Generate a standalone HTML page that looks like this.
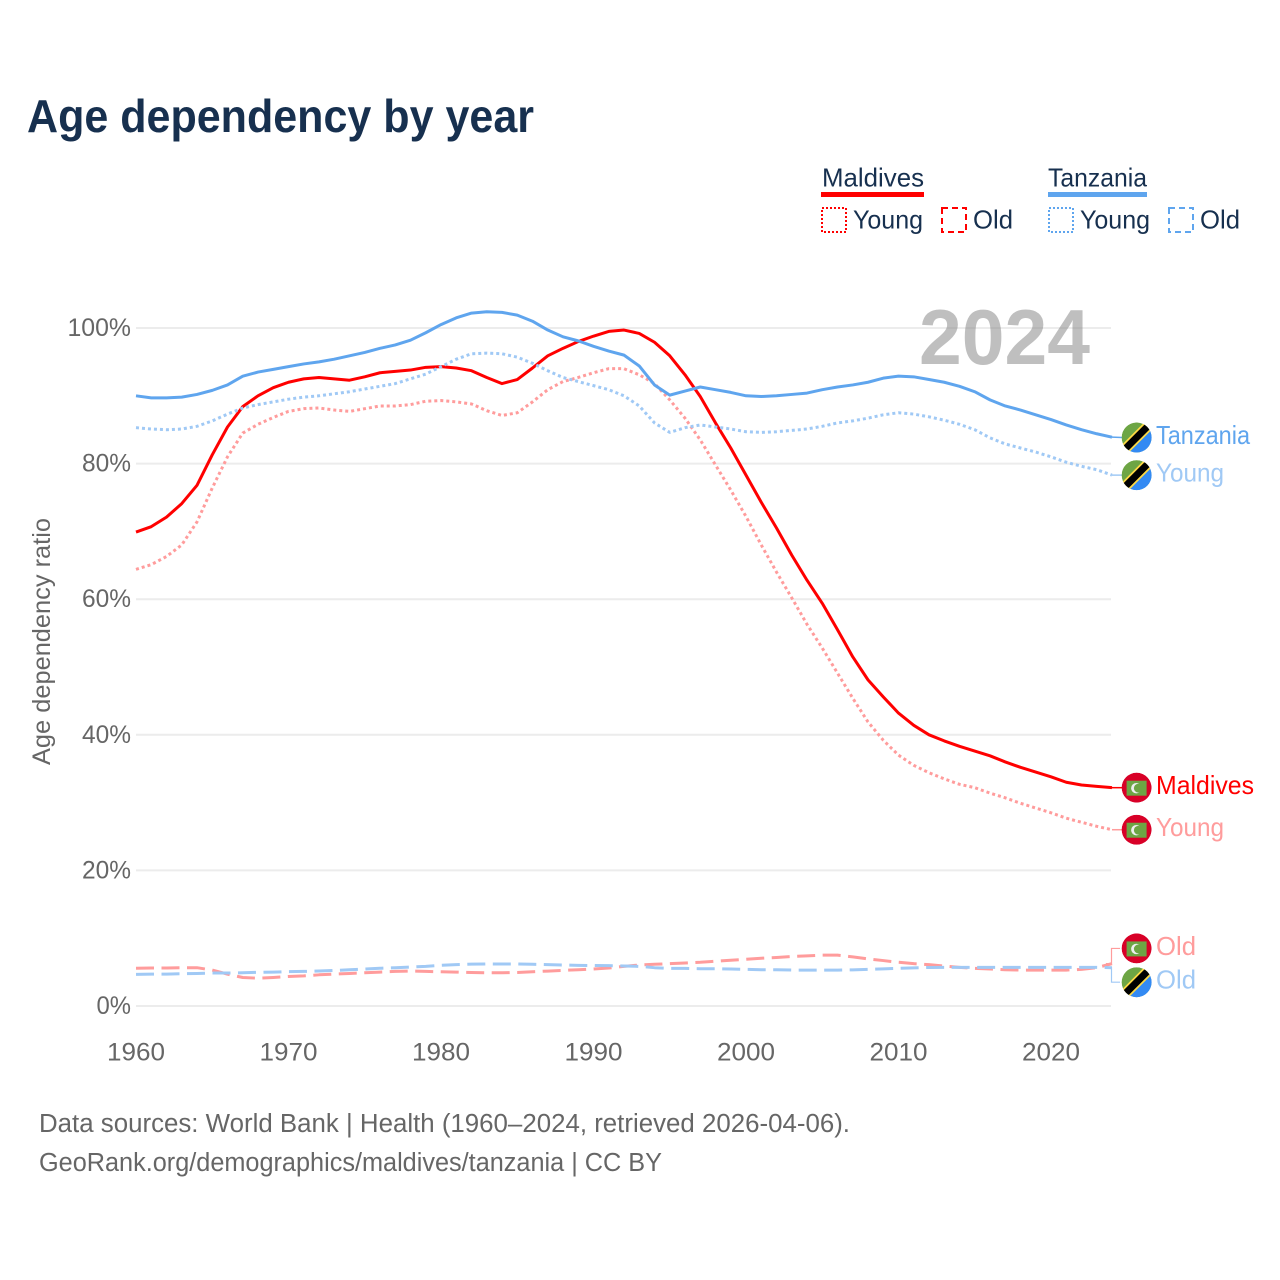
<!DOCTYPE html>
<html lang="en">
<head>
<meta charset="utf-8">
<title>Age dependency by year</title>
<style>
html,body{margin:0;padding:0;background:#fff;}
svg{display:block;font-family:"Liberation Sans",sans-serif;}
</style>
</head>
<body>
<svg id="chart" width="1280" height="1280" viewBox="0 0 1280 1280" xmlns="http://www.w3.org/2000/svg">
  <defs>
    <clipPath id="flag-clip"><circle cx="0" cy="0" r="15"></circle></clipPath>
  </defs>
  <rect x="0" y="0" width="1280" height="1280" fill="#ffffff"></rect>
  <text x="27" y="132" font-size="46" font-weight="700" fill="#17304f" textLength="507" lengthAdjust="spacingAndGlyphs">Age dependency by year</text>

  <g font-size="26" fill="#17304f">
    <g>
      <text x="822" y="186.5" textLength="102" lengthAdjust="spacingAndGlyphs">Maldives</text>
      <rect x="821" y="192" width="103" height="5" fill="#ff0000"></rect>
      <rect x="822" y="208" width="24" height="24" fill="none" stroke="#ff0000" stroke-width="2" stroke-dasharray="2 2"></rect>
      <text x="853" y="228.5" textLength="70" lengthAdjust="spacingAndGlyphs">Young</text>
      <rect x="942" y="208" width="24" height="24" fill="none" stroke="#ff0000" stroke-width="2" stroke-dasharray="6 4"></rect>
      <text x="973" y="228.5" textLength="40" lengthAdjust="spacingAndGlyphs">Old</text>
    </g>
    <g>
      <text x="1048" y="186.5" textLength="99" lengthAdjust="spacingAndGlyphs">Tanzania</text>
      <rect x="1048" y="192" width="99" height="5" fill="#5fa5ee"></rect>
      <rect x="1049" y="208" width="24" height="24" fill="none" stroke="#5fa5ee" stroke-width="2" stroke-dasharray="2 2"></rect>
      <text x="1080" y="228.5" textLength="70" lengthAdjust="spacingAndGlyphs">Young</text>
      <rect x="1169" y="208" width="24" height="24" fill="none" stroke="#5fa5ee" stroke-width="2" stroke-dasharray="6 4"></rect>
      <text x="1200" y="228.5" textLength="40" lengthAdjust="spacingAndGlyphs">Old</text>
    </g>
  </g>

  <g id="grid"></g>
  <text x="919" y="364" font-size="78" font-weight="700" fill="#808080" fill-opacity="0.5" textLength="171" lengthAdjust="spacingAndGlyphs">2024</text>
  <g id="y-ticks" font-size="25" fill="#666666" text-anchor="end"></g>
  <g id="x-ticks" font-size="25" fill="#666666" text-anchor="middle"></g>
  <text transform="translate(50,641.5) rotate(-90)" font-size="25" fill="#666666" text-anchor="middle" textLength="247" lengthAdjust="spacingAndGlyphs">Age dependency ratio</text>
  <g id="series"></g>
  <g id="end-labels" font-size="26"></g>

  <g font-size="25.5" fill="#666666">
    <text x="39" y="1132" textLength="811" lengthAdjust="spacingAndGlyphs">Data sources: World Bank | Health (1960–2024, retrieved 2026-04-06).</text>
    <text x="39" y="1171" textLength="623" lengthAdjust="spacingAndGlyphs">GeoRank.org/demographics/maldives/tanzania | CC BY</text>
  </g>
</svg>
<script>
var years = [
  1960,1961,1962,1963,1964,1965,1966,1967,1968,1969,
  1970,1971,1972,1973,1974,1975,1976,1977,1978,1979,
  1980,1981,1982,1983,1984,1985,1986,1987,1988,1989,
  1990,1991,1992,1993,1994,1995,1996,1997,1998,1999,
  2000,2001,2002,2003,2004,2005,2006,2007,2008,2009,
  2010,2011,2012,2013,2014,2015,2016,2017,2018,2019,
  2020,2021,2022,2023,2024
];
var maldivesTotal = [
  69.9,70.7,72.1,74.1,76.8,81.3,85.4,88.4,90.0,91.2,
  92.0,92.5,92.7,92.5,92.3,92.8,93.4,93.6,93.8,94.2,
  94.3,94.1,93.7,92.7,91.8,92.4,94.1,95.9,97.0,98.0,
  98.8,99.5,99.7,99.2,97.9,95.9,93.1,89.9,86.0,82.3,
  78.3,74.3,70.5,66.5,62.8,59.4,55.5,51.5,48.1,45.6,
  43.2,41.4,40.0,39.1,38.3,37.6,36.9,36.0,35.2,34.5,
  33.8,33.0,32.6,32.4,32.2
];
var maldivesYoung = [
  64.4,65.1,66.3,68.0,71.4,76.4,81.0,84.5,85.8,86.8,
  87.7,88.1,88.2,87.9,87.7,88.1,88.5,88.5,88.7,89.2,
  89.3,89.1,88.8,87.8,87.1,87.5,89.1,90.9,92.1,92.7,
  93.4,94.0,94.0,93.1,91.8,89.4,86.7,83.5,79.8,76.1,
  72.2,68.0,64.0,60.2,56.3,52.8,49.1,45.4,41.9,39.2,
  37.0,35.5,34.4,33.5,32.7,32.2,31.4,30.7,29.9,29.2,
  28.5,27.7,27.1,26.5,26.0
];
var maldivesOld = [
  5.56,5.6,5.6,5.65,5.65,5.3,4.7,4.2,4.1,4.2,
  4.35,4.45,4.6,4.7,4.8,4.9,5.0,5.1,5.15,5.1,
  5.05,5.0,4.95,4.9,4.9,4.95,5.05,5.15,5.25,5.35,
  5.45,5.6,5.85,6.05,6.15,6.25,6.35,6.45,6.6,6.75,
  6.9,7.05,7.15,7.3,7.4,7.5,7.5,7.25,6.95,6.7,
  6.45,6.25,6.1,5.9,5.7,5.55,5.45,5.35,5.3,5.3,
  5.3,5.3,5.4,5.65,6.25
];
var tanzaniaTotal = [
  90.0,89.7,89.7,89.8,90.2,90.8,91.6,92.9,93.5,93.9,
  94.3,94.7,95.0,95.4,95.9,96.4,97.0,97.5,98.2,99.3,
  100.5,101.5,102.2,102.4,102.3,101.9,101.0,99.7,98.7,98.1,
  97.3,96.6,96.0,94.4,91.6,90.1,90.7,91.3,90.9,90.5,
  90.0,89.9,90.0,90.2,90.4,90.9,91.3,91.6,92.0,92.6,
  92.9,92.8,92.4,92.0,91.4,90.6,89.4,88.5,87.9,87.2,
  86.5,85.7,85.0,84.4,83.9
];
var tanzaniaYoung = [
  85.3,85.1,85.0,85.1,85.5,86.3,87.3,88.2,88.7,89.1,
  89.5,89.8,90.0,90.3,90.6,91.0,91.4,91.8,92.5,93.2,
  94.3,95.4,96.2,96.3,96.2,95.7,94.8,93.7,92.7,92.1,
  91.5,90.9,90.0,88.5,86.0,84.6,85.3,85.7,85.4,85.1,
  84.7,84.6,84.7,84.9,85.1,85.5,86.0,86.3,86.7,87.2,
  87.5,87.3,86.9,86.4,85.8,85.0,83.8,82.9,82.3,81.7,
  81.0,80.2,79.6,79.1,78.3
];
var tanzaniaOld = [
  4.67,4.7,4.7,4.76,4.8,4.87,4.87,4.9,4.97,5.0,
  5.06,5.1,5.16,5.24,5.35,5.46,5.56,5.65,5.75,5.85,
  6.0,6.1,6.17,6.2,6.2,6.2,6.15,6.1,6.05,6.0,
  5.97,5.95,5.9,5.85,5.65,5.55,5.55,5.5,5.5,5.45,
  5.4,5.35,5.35,5.3,5.3,5.3,5.3,5.33,5.4,5.48,
  5.55,5.63,5.68,5.7,5.7,5.7,5.7,5.7,5.7,5.7,
  5.7,5.7,5.7,5.7,5.65
];
var xTickYears = [1960,1970,1980,1990,2000,2010,2020];
var yTickValues = [0,20,40,60,80,100];

var NS = 'http://www.w3.org/2000/svg';
function xScale(year){ return 136 + (year - 1960) * 15.25; }
function yScale(v){ return 1006 - v * 6.78; }
function make(tag, parent, attrs){
  var el = document.createElementNS(NS, tag);
  for (var k in attrs) { el.setAttribute(k, attrs[k]); }
  parent.appendChild(el);
  return el;
}

var gridG = document.getElementById('grid');
var yTickG = document.getElementById('y-ticks');
yTickValues.forEach(function(v){
  var line = make('line', gridG, {x1:136, x2:1111, y1:yScale(v), y2:yScale(v), stroke:'#ececec', 'stroke-width':2});
  
  
  var s = v + '%';
  var t = make('text', yTickG, {x:131, y:yScale(v)+8, textLength:(String(v).length*14.5+20), lengthAdjust:'spacingAndGlyphs'});
  t.textContent = s;
  
  
});

var xTickG = document.getElementById('x-ticks');
xTickYears.forEach(function(yr){
  var t = make('text', xTickG, {x:xScale(yr), y:1060.5, textLength:58, lengthAdjust:'spacingAndGlyphs'});
  t.textContent = yr;
  
  
});

var seriesG = document.getElementById('series');
function drawLine(values, color, dash, name){
  var d = values.map(function(v, i){
    return (i ? 'L' : 'M') + xScale(years[i]).toFixed(2) + ' ' + yScale(v).toFixed(2);
  }).join('');
  var attrs = {d:d, fill:'none', stroke:color, 'stroke-width':3, 'stroke-linejoin':'round'};
  if (dash) { attrs['stroke-dasharray'] = dash; }
  var p = make('path', seriesG, attrs);
  
  
}
var RED = '#ff0000', PINK = '#ff9c9c', BLUE = '#5fa5ee', LIGHT = '#a0c9f5';
drawLine(maldivesOld, PINK, '18 7.5', 'line-maldives-old');
drawLine(maldivesYoung, PINK, '3 3', 'line-maldives-young');
drawLine(maldivesTotal, RED, '', 'line-maldives-total');
drawLine(tanzaniaOld, LIGHT, '18 7.5', 'line-tanzania-old');
drawLine(tanzaniaYoung, LIGHT, '3 3', 'line-tanzania-young');
drawLine(tanzaniaTotal, BLUE, '', 'line-tanzania-total');

var labelsG = document.getElementById('end-labels');
function drawFlag(kind, cy, name){
  var g = make('g', labelsG, {transform:'translate(1136.6,' + cy + ')', 'clip-path':'url(#flag-clip)'});
  
  
  if (kind === 'tz') {
    make('circle', g, {cx:0, cy:0, r:15, fill:'#6da544'});
    make('polygon', g, {points:'-16,16 16,-16 16,16', fill:'#338af3'});
    make('line', g, {x1:-16, y1:16, x2:16, y2:-16, stroke:'#ffda44', 'stroke-width':10.5});
    make('line', g, {x1:-16, y1:16, x2:16, y2:-16, stroke:'#000000', 'stroke-width':7});
  } else {
    make('circle', g, {cx:0, cy:0, r:15, fill:'#d80027'});
    make('rect', g, {x:-10, y:-7, width:20, height:15, fill:'#6da544'});
    make('circle', g, {cx:-0.3, cy:0.5, r:5.2, fill:'#eeeeee'});
    make('circle', g, {cx:1.7, cy:0.5, r:4.4, fill:'#6da544'});
  }
}
function drawEnd(values, dodge, color, labelColor, text, width, kind, name, elbow){
  var endY = yScale(values[values.length - 1]);
  var cy = endY + dodge;
  var leader = make('path', labelsG, {
    d: elbow ? 'M1106 ' + endY + 'L1111.5 ' + endY + 'L1111.5 ' + cy + 'L1120 ' + cy
             : 'M1112 ' + endY + 'L1122 ' + cy,
    fill:'none', stroke:color, 'stroke-width': elbow ? 1.2 : 1.5
  });
  
  
  drawFlag(kind, cy, name + '-flag');
  var t = make('text', labelsG, {x:1156, y:cy + 6.5, fill:labelColor, textLength:width, lengthAdjust:'spacingAndGlyphs'});
  t.textContent = text;
  
  
}
drawEnd(tanzaniaTotal, 0.3, BLUE, BLUE, 'Tanzania', 94, 'tz', 'end-tanzania-total', false);
drawEnd(tanzaniaYoung, 0, LIGHT, LIGHT, 'Young', 68, 'tz', 'end-tanzania-young', false);
drawEnd(maldivesTotal, 0, RED, RED, 'Maldives', 98, 'mv', 'end-maldives-total', false);
drawEnd(maldivesYoung, 0, PINK, PINK, 'Young', 68, 'mv', 'end-maldives-young', false);
drawEnd(maldivesOld, -15.2, PINK, PINK, 'Old', 40, 'mv', 'end-maldives-old', true);
drawEnd(tanzaniaOld, 14.5, LIGHT, LIGHT, 'Old', 40, 'tz', 'end-tanzania-old', true);
</script>
</body>
</html>
